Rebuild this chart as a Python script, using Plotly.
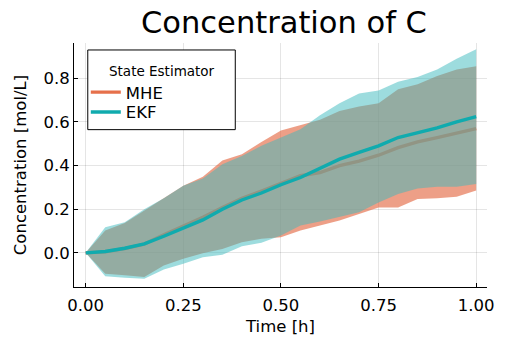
import plotly.graph_objects as go

# Time grid [h]
time_h = [0.00, 0.05, 0.10, 0.15, 0.20, 0.25, 0.30, 0.35, 0.40, 0.45, 0.50,
          0.55, 0.60, 0.65, 0.70, 0.75, 0.80, 0.85, 0.90, 0.95, 1.00]

# MHE estimate of C and its uncertainty band [mol/L]
mhe_mean = [0.000, 0.005, 0.020, 0.040, 0.083, 0.122, 0.163, 0.208, 0.250, 0.283, 0.318,
            0.353, 0.368, 0.399, 0.420, 0.447, 0.482, 0.508, 0.528, 0.548, 0.569]
mhe_upper = [0.000, 0.102, 0.137, 0.193, 0.247, 0.307, 0.348, 0.423, 0.451, 0.508, 0.560,
             0.584, 0.609, 0.650, 0.670, 0.685, 0.749, 0.772, 0.810, 0.840, 0.855]
mhe_lower = [0.000, -0.096, -0.103, -0.111, -0.058, -0.027, -0.002, 0.018, 0.049, 0.064, 0.072,
             0.102, 0.125, 0.148, 0.178, 0.208, 0.208, 0.247, 0.250, 0.257, 0.285]

# EKF estimate of C and its uncertainty band [mol/L]
ekf_mean = [0.000, 0.006, 0.021, 0.041, 0.076, 0.113, 0.151, 0.200, 0.242, 0.274, 0.312,
            0.345, 0.387, 0.429, 0.460, 0.490, 0.528, 0.551, 0.572, 0.600, 0.624]
ekf_upper = [0.000, 0.117, 0.140, 0.200, 0.250, 0.307, 0.341, 0.406, 0.444, 0.490, 0.528,
             0.566, 0.630, 0.685, 0.730, 0.744, 0.784, 0.805, 0.840, 0.889, 0.932]
ekf_lower = [0.000, -0.107, -0.114, -0.119, -0.076, -0.050, -0.020, -0.009, 0.030, 0.046, 0.079,
             0.125, 0.143, 0.163, 0.186, 0.231, 0.269, 0.295, 0.303, 0.303, 0.315]

x_ticks = [0.00, 0.25, 0.50, 0.75, 1.00]
y_ticks = [0.0, 0.2, 0.4, 0.6, 0.8]

MHE_COLOR = "#E6704B"
EKF_COLOR = "#10ABAE"
MHE_FILL = "rgba(226,100,62,0.62)"
EKF_FILL = "rgba(60,185,190,0.5)"

FONT = "DejaVu Sans"
W, H = 506, 344
ML, MR, MT, MB = 74, 12, 43, 56
PW, PH = W - ML - MR, H - MT - MB

fig = go.Figure()


def add_series(name, mean, lower, upper, line_color, fill_color, legend_id):
    fig.add_trace(go.Scatter(x=time_h, y=lower, mode="lines", line=dict(width=0),
                             showlegend=False, hoverinfo="skip"))
    fig.add_trace(go.Scatter(x=time_h, y=upper, mode="lines", line=dict(width=0),
                             fill="tonexty", fillcolor=fill_color,
                             showlegend=False, hoverinfo="skip"))
    fig.add_trace(go.Scatter(x=time_h, y=mean, mode="lines", name=name, legend=legend_id,
                             line=dict(color=line_color, width=3.4)))


add_series("MHE", mhe_mean, mhe_lower, mhe_upper, MHE_COLOR, MHE_FILL, "legend")
add_series("EKF", ekf_mean, ekf_lower, ekf_upper, EKF_COLOR, EKF_FILL, "legend2")

axis_common = dict(
    showgrid=True, gridcolor="rgba(0,0,0,0.1)", gridwidth=1,
    showline=True, linecolor="black", linewidth=1,
    ticks="inside", ticklen=4, tickcolor="black",
    zeroline=False, mirror=False,
    tickfont=dict(family=FONT, size=16.5, color="black"),
)


def px_x(px):
    return (px - ML) / PW


def px_y(py):
    return (H - MB - py) / PH


# legend frame (x 88..238, y 50..130 in pixels) and its heading
fig.add_shape(type="rect", xref="paper", yref="paper",
              x0=px_x(88), x1=px_x(238), y0=px_y(130), y1=px_y(50),
              line=dict(color="black", width=1), fillcolor="white", layer="above")
fig.add_annotation(text="State Estimator", xref="paper", yref="paper",
                   x=px_x(163), y=px_y(71), xanchor="center", yanchor="middle",
                   showarrow=False, font=dict(family=FONT, size=13.5, color="black"))

legend_common = dict(xanchor="left", yanchor="top", bgcolor="rgba(0,0,0,0)", borderwidth=0,
                     font=dict(family=FONT, size=16.5, color="black"), itemwidth=30)

fig.update_layout(
    width=W, height=H,
    margin=dict(l=ML, r=MR, t=MT, b=MB),
    paper_bgcolor="white", plot_bgcolor="white",
    font=dict(family=FONT, color="black"),
    title=dict(text="Concentration of C", x=284 / W, xanchor="center",
               y=1 - 22 / H, yanchor="middle",
               font=dict(family=FONT, size=30.5, color="black")),
    xaxis=dict(axis_common, range=[-0.03, 1.0277], tickvals=x_ticks,
               ticktext=[f"{v:.2f}" for v in x_ticks], ticklabelstandoff=3,
               title=dict(text="Time [h]", font=dict(family=FONT, size=16.5), standoff=6)),
    yaxis=dict(axis_common, range=[-0.1564, 0.961], tickvals=y_ticks,
               ticktext=[f"{v:.1f}" for v in y_ticks],
               title=dict(text="Concentration [mol/L]", font=dict(family=FONT, size=16.5), standoff=12)),
    legend=dict(legend_common, x=px_x(86), y=px_y(75)),
    legend2=dict(legend_common, x=px_x(86), y=px_y(95)),
    showlegend=True,
)

fig.write_html("out.html")
